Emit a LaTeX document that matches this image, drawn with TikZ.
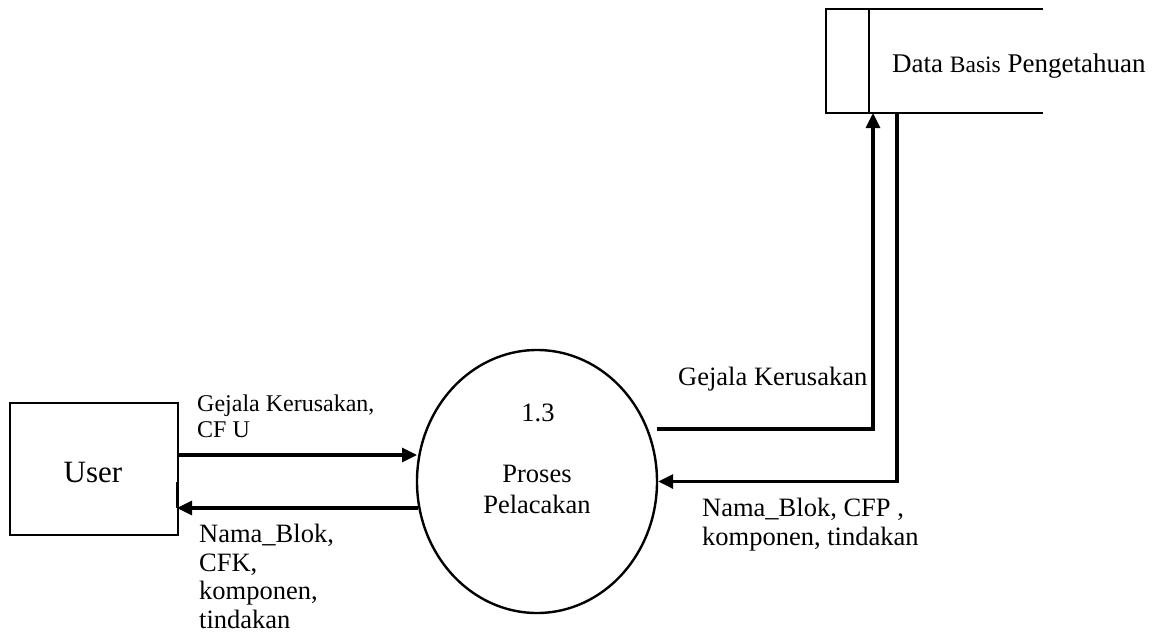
\documentclass[tikz,border=0pt]{standalone}
\usepackage{fontspec}
\setmainfont{Liberation Serif}
\usetikzlibrary{arrows.meta,shapes.geometric}
\tikzset{
  flow/.style={line width=3.2pt,-{Triangle[length=15pt,width=14pt]}},
  lbl/.style={inner sep=0pt,anchor=base west,align=left},
  big/.style={font=\fontsize{26.5}{29}\selectfont},
}
\begin{document}
\begin{tikzpicture}[x=1pt,y=-1pt]
\useasboundingbox (0,0) rectangle (1158,638);
% entities
\node[draw,line width=1.6pt,minimum width=168pt,minimum height=132pt,inner sep=0pt,anchor=north west] (user) at (9,402) {};
\node[inner sep=0pt,anchor=base,font=\fontsize{31}{34}\selectfont] (usertxt) at (93,482) {User};
\node[draw,ellipse,line width=2.4pt,minimum width=240pt,minimum height=263pt,inner sep=0pt] (proc) at (537,481.5) {};
\node[inner sep=0pt,anchor=base,big] (pnum) at (538,421) {1.3};
\node[inner sep=0pt,anchor=base,big] (pname1) at (537,482) {Proses};
\node[inner sep=0pt,anchor=base,big] (pname2) at (537,513) {Pelacakan};
% data store
\coordinate (stl) at (826,9);
\coordinate (sbl) at (826,113);
\coordinate (sti) at (869,9);
\coordinate (sbi) at (869,113);
\coordinate (str) at (1043,9);
\coordinate (sbr) at (1043,113);
\draw[line width=2.4pt] (str) -- (stl) -- (sbl) -- (sbr);
\draw[line width=2.4pt] (sti) -- (sbi);
\node[lbl,font=\fontsize{27}{30}\selectfont] (storetxt) at (892,72) {Data {\fontsize{23.5}{26}\selectfont Basis} Pengetahuan};
% flows
\coordinate (u1) at (177,455);
\coordinate (p1) at (417,455);
\draw[flow] (u1) -- (p1);
\coordinate (p2) at (418,508);
\coordinate (u2) at (177,508);
\coordinate (u2t) at (177,482);
\draw[flow] (p2) -- (u2);
\draw[line width=2.4pt] (u2t) -- (u2);
\coordinate (g1) at (657,429);
\coordinate (s1) at (873,113);
\draw[flow] (g1) -| (s1);
\coordinate (s2) at (897,113);
\draw[flow] (s2) |- (proc.east);
% labels (anchored at baseline of last line)
\node[lbl,font=\fontsize{24}{26}\selectfont] (l1) at (197,437) {Gejala Kerusakan,\\ CF U};
\node[lbl,font=\fontsize{26.5}{28.5}\selectfont] (l2) at (199,628) {Nama\_Blok,\\ CFK,\\ komponen,\\ tindakan};
\node[lbl,big] (l3) at (678,385) {Gejala Kerusakan};
\node[lbl,big] (l4) at (702,545) {Nama\_Blok, CFP ,\\ komponen, tindakan};
\end{tikzpicture}
\end{document}
